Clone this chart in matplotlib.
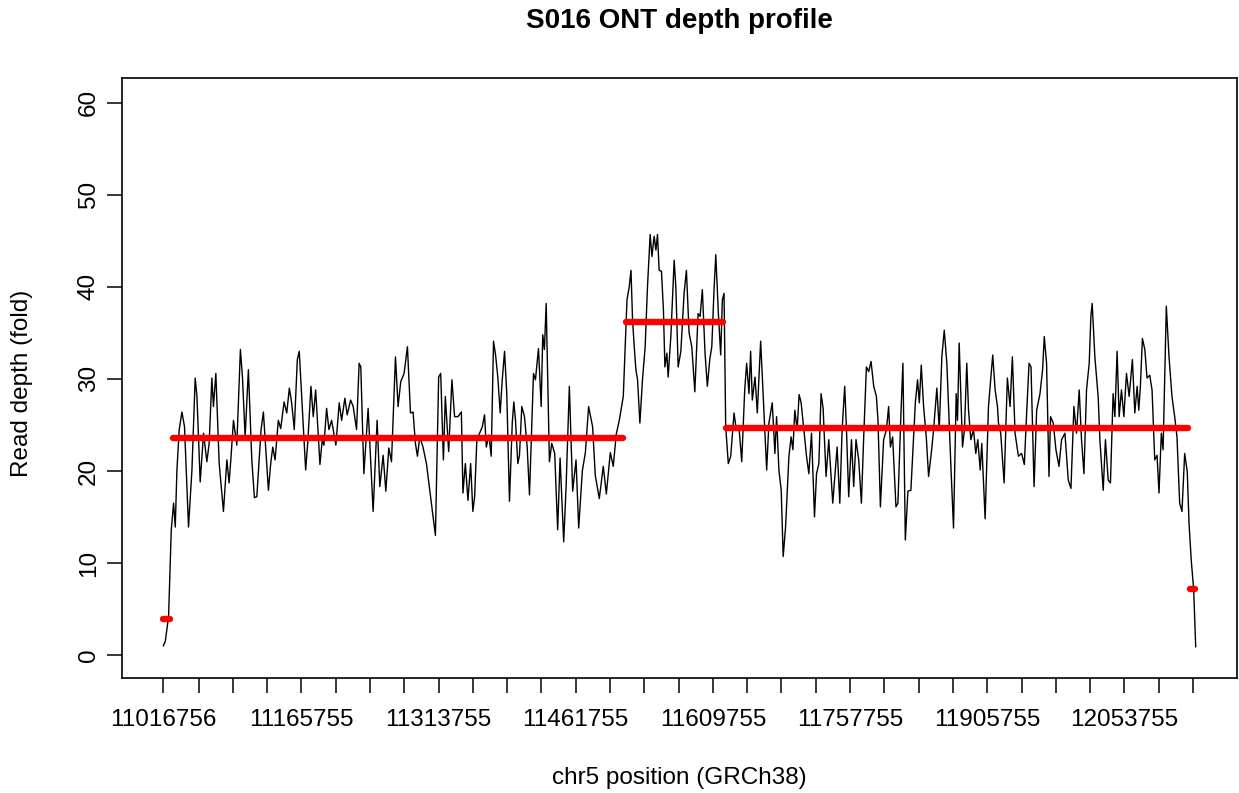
import numpy as np
import matplotlib
matplotlib.use("Agg")
import matplotlib.pyplot as plt

plt.rcParams['font.family'] = ['Liberation Sans', 'DejaVu Sans']

# region start on chr5 (bp); bins are given as offsets in kb from here
start_bp = 11016756

offset_kb = [
    0, 2.2, 5.7, 8.6, 11.1, 12.9, 14.7, 17.2, 20.1, 22.9, 27.2, 30.9, 34.4, 36.3,
    39.8, 43.4, 47.0, 49.5, 52.4, 54.1, 56.7, 60.3, 64.9, 68.6, 71.0, 73.2, 75.7,
    79.3, 83.2, 85.4, 88.3, 91.8, 95.5, 98.3, 100.9, 105.5, 108.0,
    111.6, 113.4, 115.9, 118.1, 120.6, 124.1, 126.7, 130.3, 133.2, 136.0, 138.5,
    141.3, 144.6, 146.7, 149.3, 153.6, 155.8, 159.3, 161.8, 164.4, 169.0, 171.5,
    173.3, 176.2, 178.7, 181.6, 186.2, 189.8, 192.4, 195.9, 198.4, 202.1, 204.9,
    208.5, 211.3, 213.1, 216.4,
    221.0, 226.4, 230.7, 233.6, 237.2, 240.1, 243.3, 246.2, 250.5, 253.3, 256.2,
    259.8, 263.4, 266.7, 269.5, 272.0, 274.2, 276.7, 280.2, 283.9, 289.3, 293.6,
    297.1, 299.3, 302.2, 304.3, 307.9, 311.4, 314.3, 317.9, 321.6, 323.3, 325.9,
    328.7, 331.6, 334.0,
    335.9, 338.3, 341.3, 344.2, 346.6, 348.5, 351.3, 353.8, 356.3, 358.5, 360.9,
    363.5, 365.7, 368.2, 370.6, 373.5, 376.5, 378.2, 380.0, 382.5, 384.3, 386.8,
    389.7, 392.6, 395.1, 399.4, 401.5, 404.8, 407.7, 409.4, 411.2, 413.1, 416.6,
    419.1, 422.3, 425.5, 428.1, 432.0, 434.6, 438.1, 441.7, 445.3, 448.2,
    452.1, 455.4, 458.9, 463.2, 466.1, 470.4, 474.7, 478.0, 482.3, 485.5, 488.7,
    492.0, 493.8, 496.3, 498.1, 500.3, 502.7, 504.6, 506.3, 508.1, 509.9, 511.7,
    514.2, 517.0, 519.9, 522.4, 525.3, 527.2, 529.6, 531.5, 533.2, 535.0, 537.5,
    539.6, 541.2, 543.3, 544.7, 547.6, 551.2, 553.0, 555.5,
    558.4, 561.9, 564.4, 567.3, 570.2, 573.5, 577.0, 579.2, 581.6, 584.5, 587.0,
    589.6, 591.8, 594.2, 596.1, 598.9, 601.4, 603.2, 605.0, 606.8, 609.6, 612.2,
    615.8, 618.2, 621.1, 624.1, 627.3, 629.4, 631.9, 633.7, 635.5, 638.4, 640.9,
    644.5, 647.0, 649.1, 651.0, 653.4, 657.0, 659.9, 661.7, 664.2, 666.7, 668.8,
    671.4,
    675.0, 677.4, 679.3, 681.4, 683.9, 686.0, 688.2, 691.1, 694.0, 696.5, 699.4,
    702.6, 704.8, 707.3, 709.7, 711.9, 715.1, 718.0, 722.3, 727.0, 729.9, 732.4,
    735.2, 737.1, 739.5, 742.5, 744.9, 747.4, 750.3, 753.2, 755.7, 758.6, 761.1,
    763.6, 766.5, 769.4, 771.1, 773.7, 777.2, 780.2, 782.6, 784.5, 786.9,
    790.5, 792.6, 795.9, 798.0, 800.6, 803.4, 806.6, 811.4, 813.8, 815.7, 817.8,
    820.3, 823.2, 825.7, 828.6, 831.1, 834.6, 837.2, 840.0, 842.6, 845.4, 850.1,
    852.6, 855.5, 856.9, 858.7, 862.3, 864.4, 866.9, 868.8, 871.3, 874.2, 876.6,
    878.8, 881.4, 883.1, 886.7, 890.3, 893.2, 894.9, 897.5, 900.0,
    901.1, 903.5, 907.2, 910.7, 913.6, 916.1, 919.0, 922.6, 926.1, 929.0, 931.5,
    934.1, 936.2, 939.5, 942.3, 945.9, 948.7, 950.5, 953.0, 955.6, 957.3, 960.2,
    963.1, 966.4, 969.2, 972.8, 976.4, 979.3, 982.5, 985.3, 988.2, 990.7, 993.3,
    996.1, 999.0, 1000.8, 1002.2, 1005.1, 1008.7,
    1010.5, 1014.1, 1016.5, 1019.5, 1021.9, 1024.8, 1026.7, 1029.1, 1031.3,
    1033.8, 1036.4, 1039.2, 1042.1, 1045.6, 1048.2, 1050.7, 1052.5, 1054.2,
    1056.4, 1059.0, 1061.4, 1064.3, 1066.8, 1069.7, 1072.2, 1074.3, 1076.8,
    1078.7, 1082.2, 1085.1, 1088.3, 1091.2, 1093.7, 1096.6, 1099.1, 1102.0,
    1104.8, 1106.7, 1109.1, 1111.7, 1113.9,
]

depth = [
    1.0, 1.5, 4.2, 13.6, 16.5, 13.9, 20.1, 24.5, 26.4, 24.8, 13.9, 20.1, 30.1, 28.1,
    18.8, 24.1, 21.0, 23.0, 30.1, 27.0, 30.6, 20.8, 15.6, 21.2, 18.7, 21.7, 25.5,
    22.8, 33.2, 30.2, 23.7, 31.0, 21.2, 17.1, 17.2, 24.5, 26.4,
    20.8, 17.9, 20.8, 22.6, 21.2, 25.5, 24.6, 27.5, 26.3, 29.0, 27.4,
    24.5, 32.1, 33.0, 28.1, 20.1, 23.0, 29.2, 25.9, 28.8, 20.7, 23.4,
    22.8, 26.8, 24.5, 25.5, 22.8, 27.4, 25.5, 27.9, 26.1, 27.7, 27.0,
    24.5, 31.7, 31.3, 19.7,
    26.8, 15.6, 25.5, 18.3, 21.7, 17.8, 22.5, 21.0, 32.4, 27.0, 29.7,
    30.6, 33.5, 26.3, 26.4, 23.0, 21.6, 23.7, 22.6, 20.8, 16.5, 13.0,
    30.2, 30.6, 21.2, 28.1, 22.1, 29.9, 25.9, 25.9, 26.4, 17.6, 20.8,
    16.8, 20.8, 15.6,
    17.2, 23.4, 24.1, 24.8, 26.1, 22.6, 23.9, 21.6, 34.1, 32.6, 30.2,
    26.3, 29.9, 33.0, 28.4, 16.7, 25.2, 27.5, 25.5, 20.8, 21.7, 27.0,
    25.9, 22.6, 17.4, 30.6, 29.9, 33.3, 27.0, 34.8, 33.2, 38.2, 21.0,
    23.0, 21.9, 13.6, 21.4, 12.3, 18.3, 29.2, 17.8, 21.2, 13.8,
    20.0, 22.0, 27.0, 24.8, 19.5, 17.0, 20.5, 17.5, 22.0, 20.5, 24.0,
    25.5, 26.6, 28.1, 32.8, 38.6, 40.0, 41.8, 36.4, 33.5, 31.0, 29.9,
    25.2, 29.9, 33.5, 40.0, 45.7, 43.3, 45.5, 44.0, 45.7, 41.8, 41.7,
    37.5, 31.3, 32.8, 30.2, 34.6, 42.9, 40.0, 31.3,
    33.0, 39.3, 41.8, 35.0, 33.5, 28.6, 37.1, 36.8, 39.7, 32.8, 29.2,
    32.1, 33.5, 39.7, 43.5, 37.1, 32.6, 38.6, 39.3, 24.8, 20.8, 21.6,
    26.3, 24.5, 24.8, 21.0, 28.8, 31.7, 28.4, 33.0, 27.7, 30.2, 26.3,
    34.1, 28.8, 24.1, 20.1, 25.2, 27.4, 21.9, 25.9, 20.1, 17.9, 10.7,
    13.9,
    21.6, 23.7, 22.3, 26.6, 24.5, 28.3, 27.4, 24.5, 21.6, 19.7, 24.1,
    15.0, 19.7, 20.8, 28.4, 26.8, 19.4, 23.4, 16.5, 22.6, 16.5, 24.5,
    29.2, 24.5, 17.2, 23.4, 18.3, 23.4, 21.2, 16.5, 23.7, 31.3, 30.8,
    31.9, 29.2, 28.1, 25.5, 16.1, 23.4, 24.5, 27.0, 22.6, 23.7,
    16.1, 16.5, 26.3, 31.7, 12.5, 17.8, 17.9, 27.4, 29.9, 27.4, 31.5,
    27.0, 23.7, 19.4, 21.9, 24.5, 29.0, 24.5, 32.4, 35.3, 31.7, 19.7,
    13.8, 28.4, 25.5, 33.9, 22.6, 24.5, 31.7, 26.6, 23.4, 24.5, 21.9,
    23.4, 20.1, 23.0, 14.8, 27.0, 30.6, 32.6, 28.8, 27.0,
    25.2, 24.1, 18.7, 30.1, 27.0, 32.4, 24.1, 21.6, 21.9, 20.7, 26.3,
    31.7, 31.3, 18.3, 26.6, 28.4, 31.0, 34.6, 31.7, 19.4, 25.9, 25.2,
    22.3, 20.5, 23.4, 24.1, 19.0, 18.1, 27.0, 24.1, 28.8, 23.4, 19.7,
    28.8, 31.7, 36.8, 38.2, 32.4, 28.0,
    23.4, 17.9, 23.4, 19.0, 18.7, 28.4, 25.9, 33.0, 25.9,
    28.8, 25.9, 30.6, 28.1, 32.1, 26.3, 29.2, 26.6, 29.2,
    34.4, 33.2, 30.1, 30.4, 28.8, 21.2, 21.7, 17.6, 24.1,
    22.3, 37.9, 32.4, 28.1, 25.9, 23.7, 16.5, 15.6, 21.9,
    19.9, 14.3, 10.3, 7.1, 0.9,
]

# segmentation result (CBS-style segments), kb offsets + mean depth
seg_start_kb = [0, 10.8, 499.5, 607.2, 1107.7]
seg_end_kb = [7.0, 496.0, 604.0, 1105.6, 1113.0]
seg_depth = [3.9, 23.6, 36.2, 24.7, 7.2]

# axis ticks every 37 kb, only every 4th gets a label (as R drops overlaps)
tick_pos = [11016756] + list(range(11054755, 12127756, 37000))
tick_lab = [str(t) if i % 4 == 0 else '' for i, t in enumerate(tick_pos)]

pos = start_bp + np.array(offset_kb) * 1000
depth = np.array(depth)

fig = plt.figure(figsize=(12.39, 7.93), dpi=100)
ax = fig.add_axes([122/1239, 115/793, 1115/1239, 600/793])

ax.plot(pos, depth, color='black', lw=1.0)
for s, e, d in zip(seg_start_kb, seg_end_kb, seg_depth):
    ax.plot([start_bp + s*1000, start_bp + e*1000], [d, d], color='red',
            lw=4.6, solid_capstyle='round')

xr = pos.max() - pos.min()
ax.set_xlim(pos.min() - 0.04*xr, pos.max() + 0.04*xr)
ax.set_ylim(-2.5, 62.7)

ax.set_xticks(tick_pos)
ax.set_xticklabels(tick_lab, fontsize=17.5)
ax.set_yticks(range(0, 61, 10))
ax.set_yticklabels([str(v) for v in range(0, 61, 10)], fontsize=17.5,
                   rotation=90, va='center')
ax.tick_params(axis='both', length=11, width=1.1, direction='out')
ax.tick_params(axis='x', pad=11)
ax.tick_params(axis='y', pad=5)
for sp in ax.spines.values():
    sp.set_linewidth(1.2)

fig.text(0.5485, 1 - 21/793, 'S016 ONT depth profile', ha='center', va='center',
         fontsize=20, fontweight='bold')
fig.text(0.5485, 1 - 778/793, 'chr5 position (GRCh38)', ha='center',
         va='center', fontsize=17.5)
fig.text(22/1239, 1 - 383/793, 'Read depth (fold)', ha='center', va='center',
         fontsize=17.5, rotation=90)

fig.savefig('out.png', dpi=100)
